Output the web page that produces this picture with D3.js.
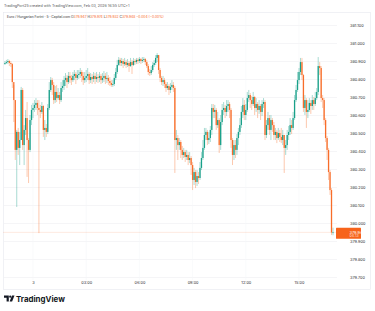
<!DOCTYPE html>
<html><head><meta charset="utf-8">
<script src="https://cdn.jsdelivr.net/npm/d3@7/dist/d3.min.js"></script>
<style>
html,body{margin:0;padding:0;background:#fff;}
svg{display:block;font-family:Inter,"Liberation Sans",sans-serif;}
</style></head><body>
<svg id="c" width="375" height="311"></svg>
<script>
const startTime = "2026-02-02T22:25:00Z";
const barMinutes = 5;
const firstOpen = 380.883;
const closes = [
380.889,380.894,380.900,380.889,380.883,380.783,380.683,380.406,380.506,380.417,
380.461,380.739,380.433,380.517,380.583,380.461,380.406,380.572,380.628,380.639,
380.656,380.667,380.639,380.628,380.617,380.650,380.517,380.528,380.506,380.639,
380.739,380.794,380.767,380.683,380.728,380.694,380.711,380.683,380.750,380.761,
380.794,380.806,380.783,380.817,380.806,380.794,380.817,380.828,380.806,380.822,
380.828,380.839,380.817,380.794,380.806,380.817,380.828,380.794,380.811,380.800,
380.817,380.800,380.811,380.806,380.817,380.794,380.806,380.817,380.800,380.806,
380.789,380.778,380.767,380.772,380.806,380.839,380.878,380.906,380.889,380.900,
380.883,380.894,380.878,380.889,380.872,380.894,380.878,380.900,380.894,380.906,
380.900,380.911,380.900,380.906,380.911,380.894,380.872,380.839,380.833,380.850,
380.878,380.889,380.917,380.933,380.850,380.806,380.783,380.794,380.772,380.750,
380.761,380.739,380.756,380.767,380.750,380.461,380.472,380.433,380.450,380.406,
380.378,380.394,380.367,380.378,380.350,380.361,380.322,380.239,380.283,380.228,
380.261,380.250,380.306,380.361,380.417,380.489,380.506,380.461,380.472,380.517,
380.639,380.617,380.628,380.544,380.572,380.433,380.561,380.628,380.639,380.617,
380.650,380.661,380.628,380.461,380.378,380.433,380.406,380.472,380.506,380.544,
380.617,380.656,380.600,380.628,380.694,380.711,380.683,380.661,380.700,380.639,
380.661,380.628,380.650,380.617,380.661,380.672,380.489,380.544,380.583,380.517,
380.572,380.544,380.489,380.506,380.472,380.500,380.478,380.461,380.489,380.417,
380.433,380.489,380.506,380.544,380.528,380.583,380.683,380.739,380.794,380.839,
380.894,380.822,380.639,380.683,380.617,380.628,380.667,380.650,380.683,380.661,
380.694,380.728,380.872,380.861,380.694,380.683,380.572,380.472,380.406,380.283,
380.183,379.947,379.948];
const highs = [
380.900,380.906,380.911,380.906,380.900,380.889,380.767,380.683,380.517,380.528,
380.506,380.756,380.750,380.544,380.628,380.672,380.472,380.600,380.656,380.667,
380.683,380.694,380.683,380.683,380.656,380.672,380.656,380.572,380.550,380.661,
380.783,380.811,380.806,380.783,380.761,380.767,380.750,380.728,380.783,380.794,
380.817,380.833,380.822,380.839,380.839,380.822,380.839,380.850,380.839,380.850,
380.850,380.861,380.850,380.839,380.839,380.850,380.861,380.839,380.833,380.828,
380.839,380.833,380.839,380.828,380.839,380.828,380.833,380.844,380.833,380.839,
380.822,380.811,380.794,380.794,380.828,380.861,380.906,380.922,380.917,380.917,
380.911,380.917,380.906,380.911,380.900,380.917,380.906,380.917,380.911,380.917,
380.917,380.922,380.917,380.922,380.922,380.917,380.906,380.883,380.856,380.872,
380.894,380.906,380.933,380.944,380.933,380.861,380.817,380.817,380.806,380.783,
380.783,380.772,380.778,380.794,380.783,380.761,380.517,380.489,380.472,380.461,
380.428,380.417,380.406,380.406,380.394,380.394,380.372,380.339,380.306,380.294,
380.294,380.283,380.339,380.394,380.461,380.528,380.528,380.517,380.506,380.539,
380.661,380.661,380.656,380.639,380.617,380.583,380.600,380.661,380.672,380.656,
380.683,380.683,380.672,380.639,380.472,380.461,380.461,380.494,380.528,380.583,
380.650,380.694,380.683,380.661,380.728,380.739,380.722,380.706,380.728,380.706,
380.694,380.672,380.683,380.661,380.683,380.694,380.683,380.572,380.617,380.600,
380.600,380.583,380.561,380.528,380.517,380.528,380.517,380.528,380.517,380.489,
380.461,380.517,380.539,380.583,380.572,380.617,380.711,380.767,380.839,380.861,
380.917,380.917,380.828,380.711,380.694,380.683,380.694,380.683,380.711,380.700,
380.728,380.750,380.922,380.894,380.872,380.711,380.694,380.583,380.483,380.417,
380.294,380.194,379.974];
const lows = [
380.878,380.883,380.883,380.872,380.867,380.750,380.561,380.350,380.089,380.378,
380.322,380.461,380.406,380.322,380.489,380.256,380.222,380.394,380.544,380.583,
380.617,380.628,380.600,379.944,380.583,380.606,380.478,380.461,380.478,380.494,
380.628,380.728,380.711,380.661,380.667,380.672,380.683,380.661,380.672,380.728,
380.739,380.761,380.750,380.772,380.778,380.767,380.783,380.794,380.772,380.794,
380.800,380.806,380.783,380.767,380.778,380.783,380.794,380.772,380.778,380.772,
380.783,380.772,380.783,380.778,380.783,380.772,380.778,380.783,380.772,380.778,
380.767,380.761,380.756,380.756,380.761,380.794,380.828,380.872,380.872,380.872,
380.861,380.872,380.861,380.867,380.839,380.867,380.828,380.872,380.878,380.883,
380.883,380.889,380.883,380.889,380.894,380.878,380.861,380.822,380.817,380.822,
380.839,380.867,380.878,380.894,380.828,380.783,380.767,380.761,380.750,380.728,
380.739,380.711,380.722,380.739,380.728,380.278,380.406,380.350,380.406,380.361,
380.350,380.361,380.339,380.350,380.322,380.333,380.267,380.183,380.211,380.194,
380.206,380.217,380.239,380.294,380.350,380.406,380.461,380.433,380.439,380.450,
380.489,380.583,380.583,380.517,380.528,380.389,380.406,380.544,380.600,380.583,
380.594,380.617,380.583,380.417,380.322,380.350,380.361,380.378,380.433,380.489,
380.528,380.583,380.572,380.572,380.617,380.672,380.639,380.628,380.650,380.600,
380.617,380.583,380.606,380.572,380.594,380.639,380.461,380.472,380.517,380.489,
380.461,380.506,380.461,380.461,380.444,380.461,380.450,380.444,380.433,380.278,
380.378,380.406,380.461,380.489,380.494,380.517,380.572,380.672,380.728,380.772,
380.822,380.794,380.617,380.600,380.528,380.583,380.617,380.606,380.628,380.628,
380.650,380.683,380.711,380.822,380.672,380.639,380.544,380.450,380.350,380.239,
380.156,379.933,379.932];
const priceTicks = [379.7,379.8,379.9,380.0,380.1,380.2,380.3,380.4,380.5,380.6,380.7,380.8,380.9,381.0,381.1];
const timeTicks = ["2026-02-03T00:00:00Z","2026-02-03T03:00:00Z","2026-02-03T06:00:00Z","2026-02-03T09:00:00Z","2026-02-03T12:00:00Z","2026-02-03T15:00:00Z"];
const timeTickLabels = ["3","03:00","06:00","09:00","12:00","15:00"];
const headerText = "TradingPort25 created with TradingView.com, Feb 03, 2026 16:55 UTC+1";
const symbolText = "Euro / Hungarian Forint · 5 · Capital.com";
const ohlcLegend = [["O","379.947"],["H","379.974"],["L","379.932"],["C","379.948"]];
const changeText = "−0.004 (−0.00%)";
const lastPriceText = "379.948";
const countdownText = "04:13";

const UP = "#089981", DOWN = "#F7631B";
const svg = d3.select("#c");
const t0 = new Date(startTime).getTime();
const bars = closes.map((c, i) => ({
  t: new Date(t0 + i * barMinutes * 60000),
  o: i === 0 ? firstOpen : closes[i - 1],
  h: highs[i], l: lows[i], c
}));

const x = d3.scaleTime().domain([new Date(timeTicks[0]), new Date(timeTicks[5])]).range([33, 299]);
const y = d3.scaleLinear().domain([379.7, 381.1]).range([277, 25]);
const plotL = 3.5, plotR = 337, plotT = 12.5, plotB = 280;

// header
svg.append("text").attr("x", 4).attr("y", 7.2).attr("font-size", 3.65).attr("fill", "#555").text(headerText);
// panel frame
svg.append("rect").attr("x", 3.5).attr("y", 12.5).attr("width", 367).attr("height", 277)
  .attr("fill", "#fff").attr("stroke", "#e6e8ee").attr("stroke-width", 0.6);

// grid
const g = svg.append("g");
g.selectAll("line.h").data(priceTicks).join("line")
  .attr("x1", plotL).attr("x2", plotR).attr("y1", d => Math.round(y(d)) + 0.5).attr("y2", d => Math.round(y(d)) + 0.5)
  .attr("stroke", "#f0f1f4").attr("stroke-width", 0.7);
g.selectAll("line.v").data(timeTicks).join("line")
  .attr("x1", d => x(new Date(d))).attr("x2", d => x(new Date(d))).attr("y1", plotT).attr("y2", plotB)
  .attr("stroke", "#f5f6f8").attr("stroke-width", 0.6);

// axes (d3 axis, styled)
const yAxis = d3.axisRight(y).tickValues(priceTicks).tickFormat(d3.format(".3f")).tickSize(0).tickPadding(0);
const ya = svg.append("g").attr("transform", "translate(350,0)").call(yAxis);
ya.select(".domain").remove();
ya.selectAll("text").attr("font-size", 3.9).attr("fill", "#333").attr("font-family", "Inter,Liberation Sans,sans-serif");
const xAxis = d3.axisBottom(x).tickValues(timeTicks.map(d => new Date(d))).tickFormat((d, i) => timeTickLabels[i]).tickSize(0).tickPadding(0);
const xa = svg.append("g").attr("transform", "translate(0,281.5)").call(xAxis);
xa.select(".domain").remove();
xa.selectAll("text").attr("font-size", 3.9).attr("fill", "#333").attr("font-family", "Inter,Liberation Sans,sans-serif");

// last price line
const lastClose = closes[closes.length - 1];
svg.append("line").attr("x1", plotL).attr("x2", plotR).attr("y1", y(lastClose)).attr("y2", y(lastClose))
  .attr("stroke", DOWN).attr("stroke-opacity", 0.45).attr("stroke-width", 0.6).attr("stroke-dasharray", "1,1");

// candles
const cg = svg.append("g");
const bw = 1.3;
cg.selectAll("line.w").data(bars).join("line")
  .attr("x1", d => x(d.t)).attr("x2", d => x(d.t))
  .attr("y1", d => y(d.h)).attr("y2", d => y(d.l))
  .attr("stroke", d => d.c >= d.o ? UP : DOWN).attr("stroke-opacity", 0.5).attr("stroke-width", 0.7);
cg.selectAll("rect").data(bars).join("rect")
  .attr("x", d => x(d.t) - bw / 2).attr("width", bw)
  .attr("y", d => y(Math.max(d.o, d.c)))
  .attr("height", d => Math.max(0.7, Math.abs(y(d.o) - y(d.c))))
  .attr("fill", d => d.c >= d.o ? UP : DOWN).attr("fill-opacity", 0.9);

// legend
const lg = svg.append("text").attr("x", 7).attr("y", 18.4).attr("font-size", 3.35).attr("fill", "#333");
lg.append("tspan").text(symbolText + " ");
ohlcLegend.forEach(([k, v]) => {
  lg.append("tspan").text(" " + k);
  lg.append("tspan").attr("fill", DOWN).text(v);
});
lg.append("tspan").attr("fill", DOWN).text(" " + changeText);

// last price tag
const ly = y(lastClose);
svg.append("rect").attr("x", 336).attr("y", ly - 4.5).attr("width", 25).attr("height", 11).attr("fill", DOWN).attr("rx", 0.5);
svg.append("text").attr("x", 349.5).attr("y", ly + 1.2).attr("font-size", 3.9).attr("fill", "#fff").text(lastPriceText);
svg.append("text").attr("x", 349.5).attr("y", ly + 5).attr("font-size", 3.5).attr("fill", "#fff").attr("fill-opacity", 0.85).text(countdownText);

// TradingView logo
const logo = svg.append("g").attr("fill", "#131722");
logo.append("path").attr("d", "M4 295.6h4.8v6h-2.2v-3.8H4z");
logo.append("circle").attr("cx", 10.2).attr("cy", 296.7).attr("r", 1.1);
logo.append("path").attr("d", "M12 295.6h2.5l-2.4 6h-2.5z");
svg.append("text").attr("x", 16).attr("y", 301.5).attr("font-size", 7.9).attr("font-weight", 700).attr("fill", "#131722").text("TradingView");
</script>
</body></html>
